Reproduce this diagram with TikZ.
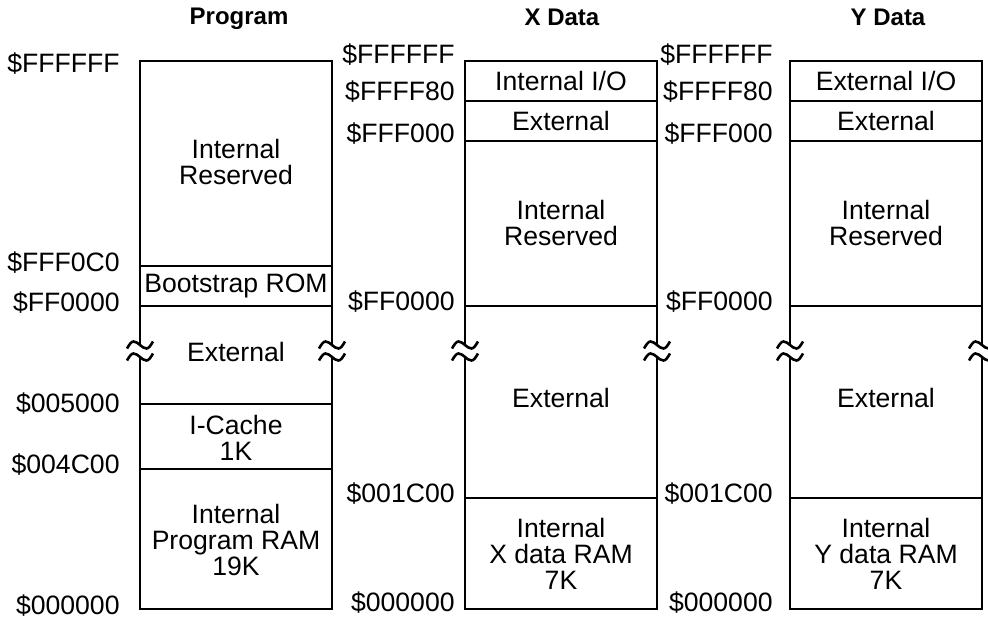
\documentclass[tikz,border=0pt]{standalone}
\usepackage{fontspec}
\setmainfont{Liberation Sans}

\begin{document}
\begin{tikzpicture}[
        x = 0.5pt,
        y = -0.5pt,
        wall/.style = {
            line width = 1.3pt
        },
        addr/.style = {
            anchor = east,
            inner sep = 0pt,
            font = \fontsize{13.3}{13}\selectfont
        },
        region/.style = {
            align = center,
            inner sep = 0pt,
            font = \fontsize{13.3}{13}\selectfont
        },
        heading/.style = {
            font = \fontsize{12}{14}\selectfont\bfseries
        },
        squig/.pic = {
            \draw[line width = 1.3pt] (-13,3.5) sin (-6.5,-3.5) cos (0,0) sin (6.5,3.5) cos (13,-3.5);
        }
    ]
    \useasboundingbox (0,0) rectangle (988,621);

    \node[heading] (prog) at (239,19) {Program};
    \node[heading] (xdat) at (562,17) {X Data};
    \node[heading] (ydat) at (888,17) {Y Data};

    \draw[wall] (140,345) -- (140,61) -- (332,61) -- (332,345);
    \draw[wall] (140,357) -- (140,609) -- (332,609) -- (332,357);
    \draw[wall] (140,266) -- (332,266);
    \draw[wall] (140,306) -- (332,306);
    \draw[wall] (140,404) -- (332,404);
    \draw[wall] (140,469) -- (332,469);

    \draw[wall] (465,345) -- (465,61) -- (657,61) -- (657,345);
    \draw[wall] (465,357) -- (465,609) -- (657,609) -- (657,357);
    \draw[wall] (465,101) -- (657,101);
    \draw[wall] (465,141) -- (657,141);
    \draw[wall] (465,306) -- (657,306);
    \draw[wall] (465,498) -- (657,498);

    \draw[wall] (790,345) -- (790,61) -- (982,61) -- (982,345);
    \draw[wall] (790,357) -- (790,609) -- (982,609) -- (982,357);
    \draw[wall] (790,101) -- (982,101);
    \draw[wall] (790,141) -- (982,141);
    \draw[wall] (790,306) -- (982,306);
    \draw[wall] (790,498) -- (982,498);

    \pic at (140,345) {squig};
    \pic at (140,357) {squig};
    \pic at (332,345) {squig};
    \pic at (332,357) {squig};
    \pic at (465,345) {squig};
    \pic at (465,357) {squig};
    \pic at (657,345) {squig};
    \pic at (657,357) {squig};
    \pic at (790,345) {squig};
    \pic at (790,357) {squig};
    \pic at (982,345) {squig};
    \pic at (982,357) {squig};

    \node[addr] (p1) at (120,64) {\$FFFFFF};
    \node[addr] (p2) at (120,263) {\$FFF0C0};
    \node[addr] (p3) at (120,303) {\$FF0000};
    \node[addr] (p4) at (120,404) {\$005000};
    \node[addr] (p5) at (120,465) {\$004C00};
    \node[addr] (p6) at (120,606) {\$000000};

    \node[addr] (x1) at (455,55) {\$FFFFFF};
    \node[addr] (x2) at (455,92) {\$FFFF80};
    \node[addr] (x3) at (455,134) {\$FFF000};
    \node[addr] (x4) at (455,302) {\$FF0000};
    \node[addr] (x5) at (455,494) {\$001C00};
    \node[addr] (x6) at (455,603) {\$000000};

    \node[addr] (y1) at (773,55) {\$FFFFFF};
    \node[addr] (y2) at (773,92) {\$FFFF80};
    \node[addr] (y3) at (773,134) {\$FFF000};
    \node[addr] (y4) at (773,302) {\$FF0000};
    \node[addr] (y5) at (773,494) {\$001C00};
    \node[addr] (y6) at (773,603) {\$000000};

    \node[region] (pres) at (236,162) {Internal\\Reserved};
    \node[region] (pboot) at (236,286) {Bootstrap ROM};
    \node[region] (pext) at (236,352) {External};
    \node[region] (pcache) at (236,438) {I-Cache\\1K};
    \node[region] (pram) at (236,540) {Internal\\Program RAM\\19K};

    \node[region] (xio) at (561,81) {Internal I/O};
    \node[region] (xext1) at (561,121) {External};
    \node[region] (xres) at (561,223) {Internal\\Reserved};
    \node[region] (xext2) at (561,398) {External};
    \node[region] (xram) at (561,554) {Internal\\X data RAM\\7K};

    \node[region] (yio) at (886,81) {External I/O};
    \node[region] (yext1) at (886,121) {External};
    \node[region] (yres) at (886,223) {Internal\\Reserved};
    \node[region] (yext2) at (886,398) {External};
    \node[region] (yram) at (886,554) {Internal\\Y data RAM\\7K};
\end{tikzpicture}
\end{document}
